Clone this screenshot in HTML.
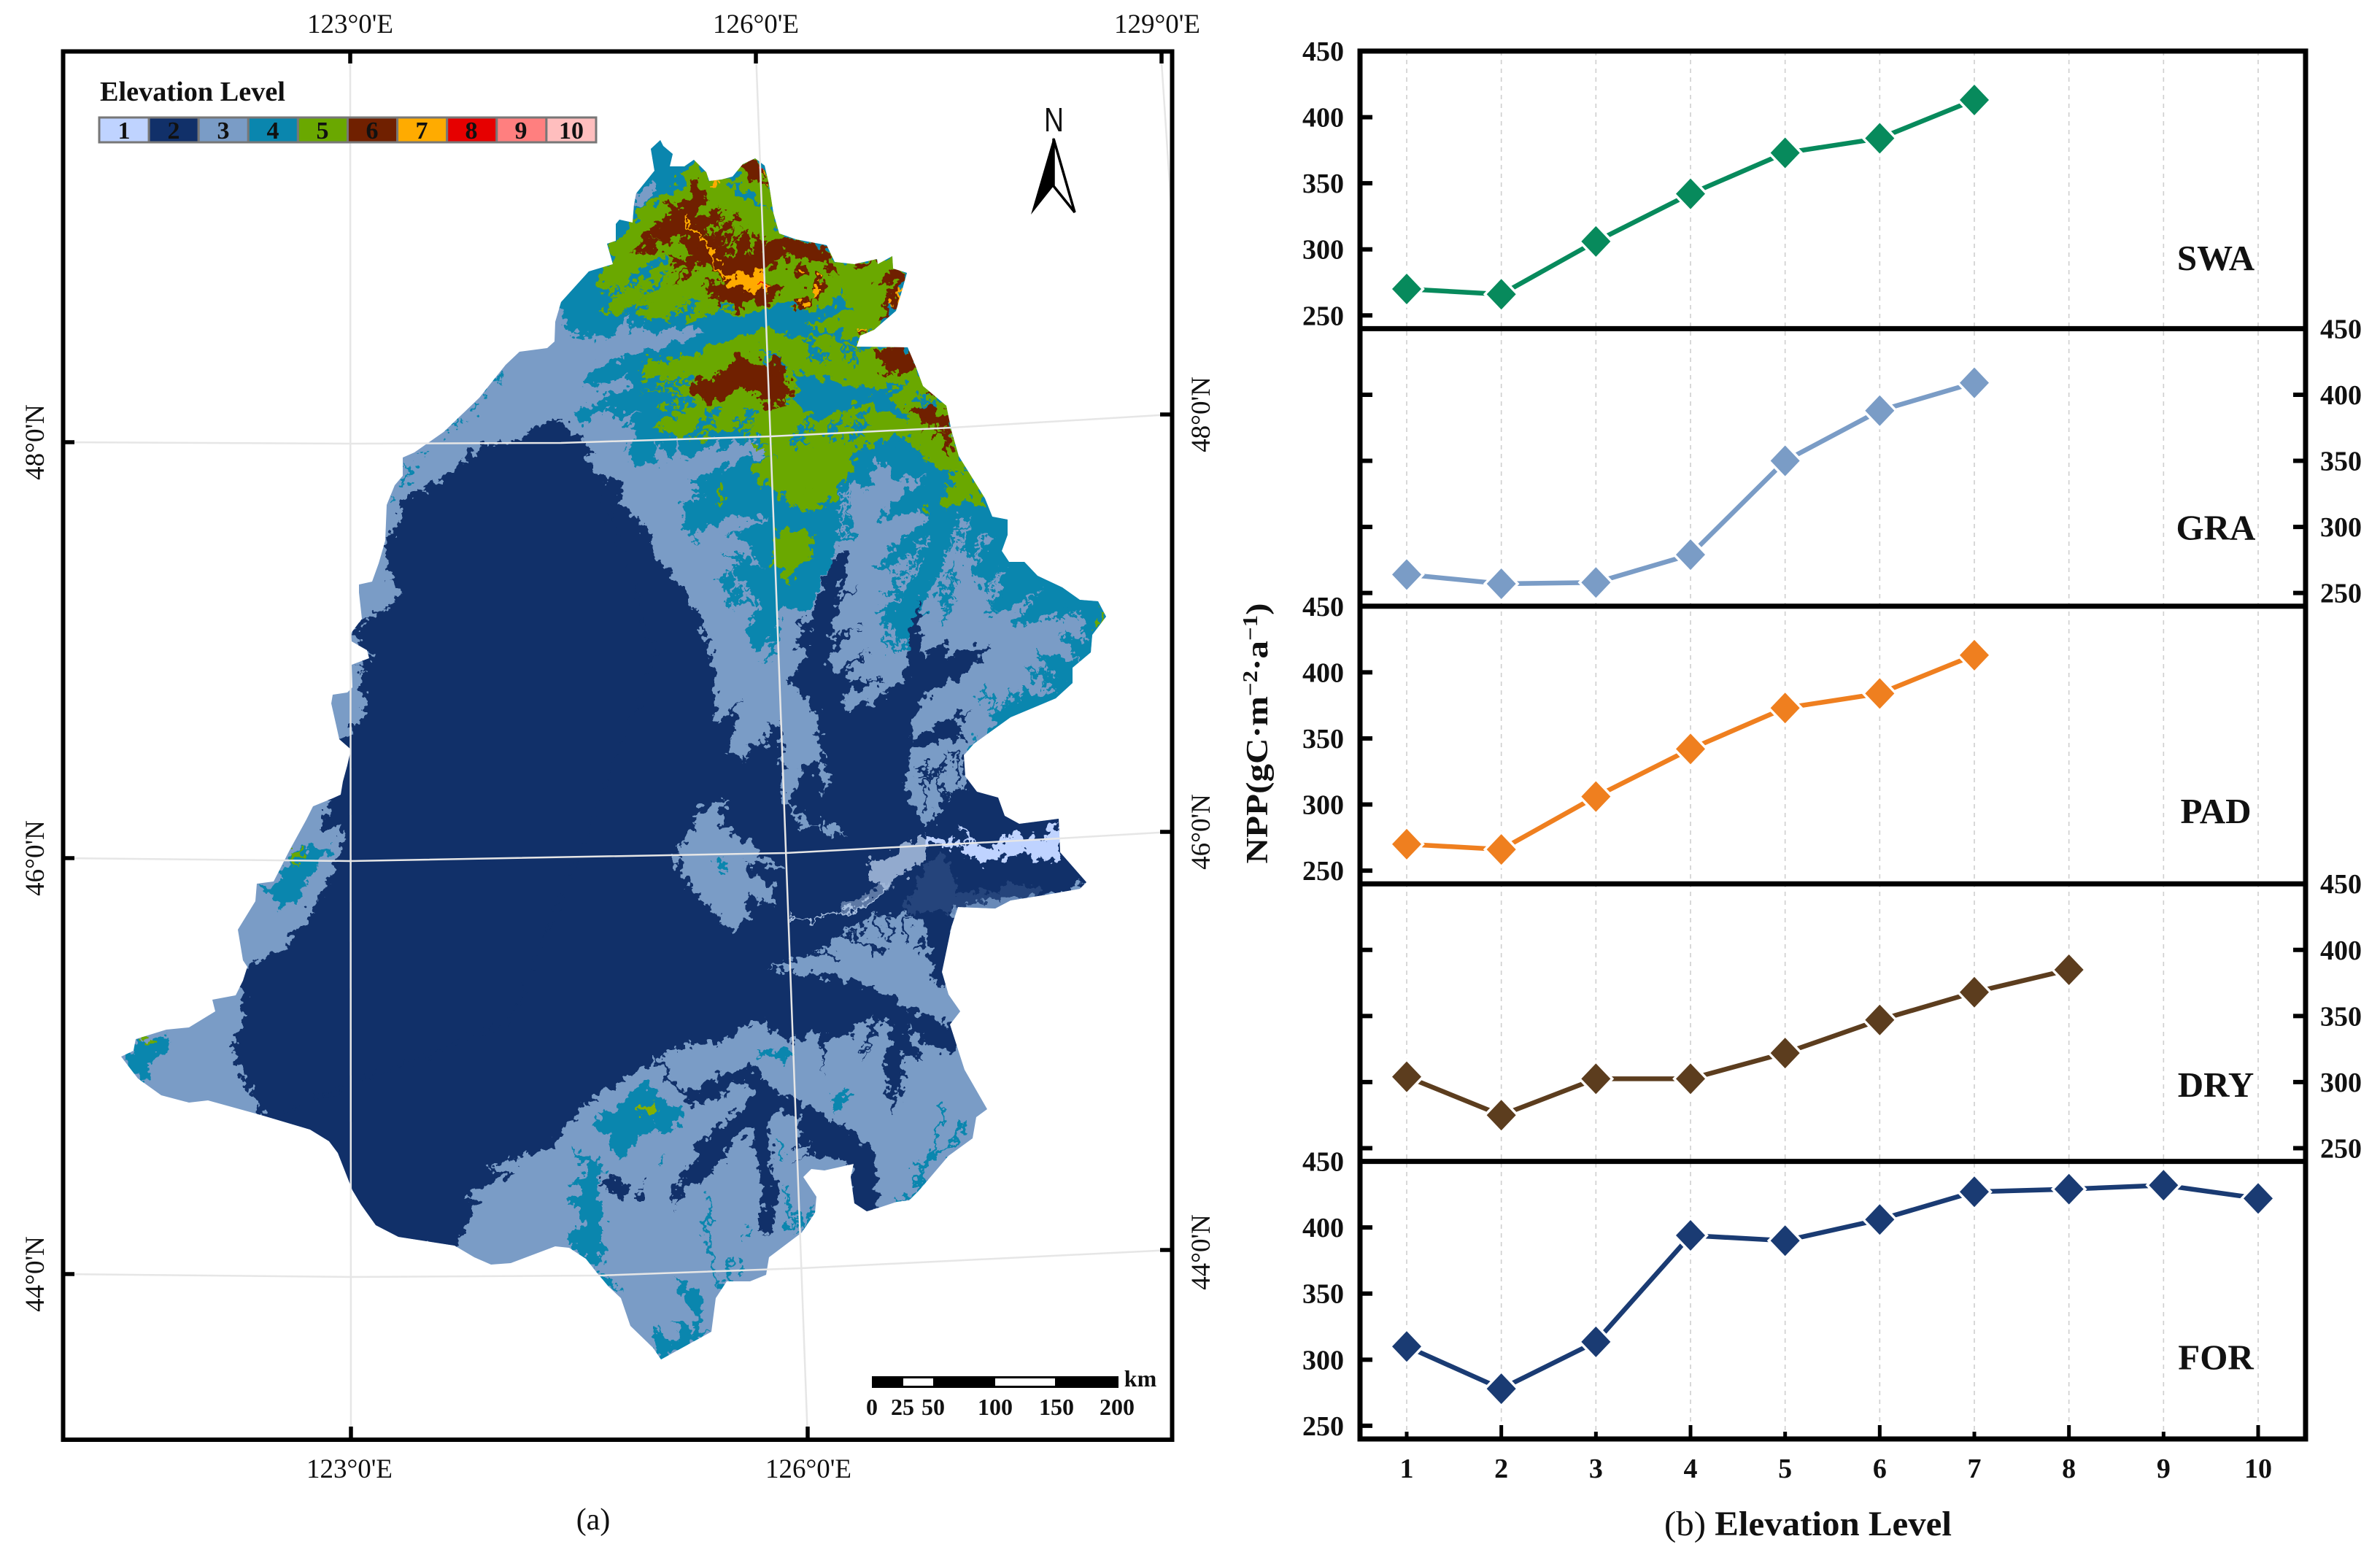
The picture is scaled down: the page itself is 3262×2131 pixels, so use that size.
<!DOCTYPE html>
<html lang="en">
<head>
<meta charset="utf-8">
<title>Elevation Level Map and NPP Chart</title>
<style>
html,body{margin:0;padding:0;background:#fff;}
svg{display:block;}
text{font-family:"Liberation Serif",serif;fill:#111;}
</style>
</head>
<body>
<svg id="figure" xmlns="http://www.w3.org/2000/svg" width="3262" height="2131" viewBox="0 0 3262 2131">
<defs>
<clipPath id="outline-clip">
<path d="M892,204 905,192 909,200 922,211 918,228 938,228 951,219 968,236 972,248 989,246 1004,242 1018,225 1035,217 1048,227 1054,253 1060,292 1068,320 1091,328 1133,336 1144,359 1171,362 1202,355 1203,362 1223,351 1224,368 1243,374 1236,399 1228,426 1198,452 1179,460 1174,475 1244,476 1255,502 1265,529 1297,556 1304,590 1314,625 1350,683 1360,708 1381,712 1381,733 1373,755 1383,770 1404,770 1422,789 1456,805 1480,822 1505,824 1516,845 1497,870 1495,894 1470,915 1470,936 1447,957 1385,983 1335,1019 1321,1035 1323,1064 1339,1085 1368,1093 1377,1118 1397,1129 1451,1122 1453,1168 1489,1209 1480,1218 1435,1226 1385,1234 1364,1245 1313,1243 1304,1270 1291,1332 1300,1363 1316,1386 1302,1404 1322,1466 1353,1520 1338,1531 1333,1560 1300,1584 1260,1631 1246,1645 1229,1647 1202,1656 1188,1660 1171,1649 1166,1613 1170,1595 1130,1604 1112,1602 1101,1613 1119,1640 1117,1662 1099,1689 1054,1723 1050,1747 1028,1756 996,1756 981,1779 975,1825 906,1863 895,1847 864,1817 851,1779 834,1763 818,1744 803,1725 780,1710 761,1708 700,1731 673,1733 650,1723 623,1707 546,1695 515,1679 495,1651 483,1631 463,1580 451,1564 425,1548 361,1529 285,1508 259,1511 221,1501 189,1478 166,1448 183,1440 186,1424 228,1411 259,1408 295,1386 291,1370 323,1364 333,1344 339,1325 333,1316 326,1274 350,1235 352,1211 375,1208 397,1165 420,1123 429,1105 456,1094 467,1089 470,1071 476,1049 481,1027 465,1013 461,995 454,964 456,952 476,949 483,942 482,911 506,902 503,891 482,879 481,868 496,848 492,812 492,801 510,797 519,772 528,741 530,692 541,665 552,652 552,627 568,620 608,592 657,545 693,500 712,482 750,477 760,468 761,441 769,414 807,372 840,362 832,334 844,330 844,307 849,301 867,305 869,280 872,265 897,234 Z"/>
</clipPath>
<filter id="rough" filterUnits="userSpaceOnUse" x="100" y="150" width="1450" height="1750" color-interpolation-filters="sRGB">
<feTurbulence type="fractalNoise" baseFrequency="0.085" numOctaves="3" seed="4" result="n"/>
<feDisplacementMap in="SourceGraphic" in2="n" scale="30" xChannelSelector="R" yChannelSelector="G"/>
</filter>
</defs>

<rect width="3262" height="2131" fill="#fff"/>

<g clip-path="url(#outline-clip)">
<rect x="100" y="150" width="1450" height="1750" fill="#7a9cc6"/>
<g filter="url(#rough)">

<g fill="#0a86ae">
<polygon transform="translate(750,150) scale(.38265)" points="30,690 60,770 80,800 150,815 230,820 270,760 295,720 285,800 340,770 345,795 430,795 555,780 570,800 400,850 210,905 130,965 135,1000 290,960 300,985 100,1085 130,1130 220,1060 240,1105 335,1070 285,1130 330,1170 285,1205 305,1280 385,1270 410,1200 440,1260 470,1165 480,1255 580,1220 610,1175 610,1215 740,1180 800,1160 1600,1160 1600,0 300,0 300,300 30,600"/>
<polygon transform="translate(900,600) scale(.41454)" points="82,72 173,41 200,0 320,5 320,25 380,55 320,60 250,75 215,100 100,150 160,190 85,210 85,280 130,345 165,300 250,260 390,270 330,285 235,315 300,350 350,440 280,380 225,380 280,410 210,470 240,565 350,540 300,630 325,705 390,660 350,745 400,720 405,560 480,570 500,590 540,520 620,400 700,300 800,0 800,-100 82,-100"/>
<polygon transform="translate(900,600) scale(.41454)" points="500,590 700,0 1700,0 1700,1100 1000,1100 800,1000 600,800"/>
</g>
<polygon fill="#7a9cc6" transform="translate(750,150) scale(.38265)" points="315,300 380,255 385,290 340,350 310,350"/>

<polygon fill="#7a9cc6" transform="translate(900,600) scale(.41454)" points="610,340 650,330 640,150 700,170 720,60 790,140 890,130 760,230 735,275 860,240 900,270 790,350 725,435 860,390 850,440 750,510 830,540 720,570 830,670 870,620 890,520 960,400 940,400 1000,270 1040,260 1000,380 1040,400 1060,470 1090,520 1130,430 1110,590 1230,530 1290,490 1180,620 1300,590 1400,560 1410,680 1340,640 1390,740 1260,710 1340,800 1230,760 1330,830 1260,860 1210,820 1200,870 1180,840 1165,890 1110,880 1130,900 1100,970 1030,1020 1020,1040 900,1100 600,1000 520,800 490,600 560,440"/>
<g id="wedge-feathers" transform="translate(900,600) scale(.41454)"></g>
<g id="teal-light-feathers" transform="translate(900,600) scale(.41454)"></g>
<g transform="translate(300,500) scale(.44643)" fill="none" stroke="#0a86ae" stroke-width="9">
<path d="M858,38 l-10,12 M828,80 l-12,12 M790,125 l-22,18 M750,175 l-30,12 M698,208 l-10,10 M628,258 l-8,6 M570,298 L592,320 L575,350 L555,365 M535,402 l-6,8"/>
</g>

<g fill="#6aa800">
<polygon transform="translate(750,150) scale(.38265)" points="215,480 245,470 310,410 320,370 420,300 490,280 485,225 525,180 575,240 600,250 670,240 700,195 745,175 790,210 830,450 1000,490 1030,540 1180,535 1235,525 1290,585 1200,770 1110,850 1100,830 1060,800 930,770 1040,740 1110,720 1070,690 1060,640 1040,680 940,740 860,690 770,720 680,740 600,720 530,760 490,760 490,680 430,760 330,740 430,580 340,640 320,720 300,680 265,730 210,720 295,640 180,650 180,590 240,550"/>
<polygon transform="translate(750,150) scale(.38265)" points="350,900 480,895 590,850 660,820 740,800 790,790 880,810 950,820 1000,800 1060,830 1108,850 1290,850 1330,940 1430,1060 1450,1150 1480,1250 1568,1390 1568,1420 1500,1400 1410,1430 1480,1345 1500,1300 1440,1290 1380,1280 1310,1200 1240,1170 1150,1205 1090,1215 1100,1280 1060,1320 1030,1390 960,1440 900,1420 820,1370 720,1290 780,1240 830,1260 730,1205 810,1190 700,1170 740,1130 660,1170 600,1150 560,1180 500,1170 450,1180 380,1130 450,1090 400,1060 500,1040 400,1000 330,1020 470,970 330,960"/>
<g transform="translate(900,600) scale(.41454)">
<polygon points="985,90 1010,120 1060,130 1085,200 1060,190 960,215 935,240 970,170"/>
<polygon points="880,220 905,230 910,270 890,250"/>
<polygon points="390,310 440,310 500,305 515,340 510,400 470,420 430,490 400,440 375,410 395,380"/>
<polygon points="205,165 225,170 220,230 205,225"/>
<polygon points="1470,560 1485,590 1465,630"/>
</g>
</g>
<polygon fill="#0a86ae" transform="translate(750,150) scale(.38265)" points="650,260 700,280 760,330 795,350 740,345 680,305"/>
<polygon fill="#0a86ae" transform="translate(750,150) scale(.38265)" points="300,590 370,560 435,510 420,545 330,610 300,650"/>
<polygon fill="#0a86ae" transform="translate(750,150) scale(.38265)" points="870,945 1000,960 1100,990 1150,1010 1290,980 1230,1030 1290,1110 1190,1075 1130,1050 1000,1100 930,1120 960,1100 860,1040 900,1000"/>
<g id="teal-feathers" transform="translate(750,150) scale(.38265)"></g>
<g id="green-feathers" transform="translate(750,150) scale(.38265)"></g>

<g fill="#702000" transform="translate(750,150) scale(.38265)">
<polygon points="345,440 410,400 440,380 430,320 470,345 510,320 512,300 530,240 550,300 575,310 555,350 530,400 630,355 560,460 680,375 600,510 680,420 640,540 720,420 730,520 760,430 775,500 830,450 900,470 1000,490 1015,530 1050,590 1020,580 970,540 920,530 870,540 850,510 800,570 780,590 790,640 850,630 830,660 790,700 730,680 680,730 660,700 610,680 570,620 640,620 600,570 530,560 480,610 440,640 510,560 450,570 440,520 490,540 510,510 470,450 430,490 380,445 385,520 340,500 290,520 340,470"/>
<polygon points="690,205 745,180 785,210 795,265 760,240 730,265 720,225"/>
<circle cx="905" cy="578" r="28"/>
<polygon points="885,670 945,670 925,710 905,720 888,700"/>
<polygon points="935,640 965,590 990,600 1000,660 970,680"/>
<polygon points="1090,560 1180,535 1130,578"/>
<polygon points="1288,585 1250,670 1220,745 1195,760 1215,690 1245,630 1180,620 1240,578"/>
<polygon points="1115,800 1170,780 1130,815"/>
<polygon points="510,1000 540,960 590,960 640,930 680,870 730,900 770,920 820,880 850,930 870,1020 830,1060 780,1080 770,1030 700,1000 620,1040 590,1050 510,1020"/>
<polygon points="1170,860 1290,850 1320,930 1260,950 1220,930 1170,870"/>
<polygon points="1340,1000 1390,1015 1380,1035"/>
<polygon points="1290,1080 1350,1065 1440,1100 1450,1230 1420,1220 1425,1140 1340,1110"/>
</g>
<g id="brown-feathers" transform="translate(750,150) scale(.38265)"></g>

<g transform="translate(750,150) scale(.38265)" fill="#ffab00">
<path d="M510,370 L490,400 L520,430 L580,480 L590,530 L620,580 L650,610" fill="none" stroke="#ffab00" stroke-width="10"/>
<polygon points="630,620 680,570 700,600 770,570 785,630 750,660 690,640"/>
<circle cx="605" cy="268" r="14"/>
<circle cx="905" cy="580" r="8"/>
<circle cx="912" cy="688" r="12"/>
<circle cx="965" cy="645" r="20"/>
<circle cx="980" cy="604" r="7"/>
<path d="M1265,640 L1240,700" stroke="#ffab00" stroke-width="12" fill="none"/>
<path d="M1125,795 L1165,785" stroke="#ffab00" stroke-width="9" fill="none"/>
<path d="M775,205 L788,250" stroke="#ffab00" stroke-width="9" fill="none"/>
<circle cx="770" cy="625" r="6" fill="#e60000"/>
<circle cx="767" cy="196" r="5" fill="#e60000"/>
</g>

<g fill="#113069">
<polygon points="764,574 768,607 771,620 764,656 773,665 811,636 796,656 827,652 854,658 849,687 885,723 907,772 943,812 965,862 981,920 979,990 989,990 1012,957 1002,1027 1020,1044 1029,1017 1047,1023 1055,992 1068,988 1072,1023 1074,1073 1070,1093 1084,1102 1095,1131 1120,1137 1099,1118 1084,1098 1095,1068 1099,1056 1116,1042 1126,1044 1120,981 1107,957 1078,930 1093,919 1103,890 1091,884 1105,865 1093,853 1111,849 1136,774 1157,751 1161,774 1149,820 1180,801 1150,830 1138,874 1182,859 1149,882 1134,907 1145,923 1165,907 1190,890 1161,923 1157,932 1211,932 1157,952 1155,965 1159,979 1211,952 1244,928 1242,899 1257,822 1263,849 1261,899 1294,878 1304,901 1323,886 1358,884 1339,909 1310,932 1261,957 1248,1015 1335,967 1315,986 1319,1015 1286,1015 1248,1031 1330,1030 1400,1040 1600,1100 1600,1300 500,1300"/>
<polygon points="361,1535 500,1700 623,1715 648,1657 661,1644 636,1641 706,1606 668,1600 757,1571 776,1542 814,1504 853,1482 891,1461 895,1444 918,1484 937,1503 952,1516 987,1507 991,1495 1017,1484 1038,1493 1014,1522 983,1545 949,1574 956,1587 935,1610 925,1633 924,1656 941,1625 968,1614 994,1583 1021,1547 1029,1549 1038,1580 1040,1614 1044,1656 1044,1694 1061,1679 1065,1637 1056,1587 1052,1537 1067,1518 1090,1530 1098,1553 1086,1572 1113,1568 1094,1595 1113,1580 1167,1595 1167,1670 1190,1670 1205,1645 1199,1583 1186,1564 1144,1537 1109,1516 1071,1499 1040,1472 1029,1461 994,1469 952,1495 941,1497 925,1484 903,1449 945,1432 987,1427 1036,1398 1063,1415 1086,1426 1121,1417 1130,1470 1135,1420 1157,1421 1197,1390 1180,1457 1205,1400 1229,1404 1211,1453 1222,1529 1237,1493 1233,1444 1264,1453 1242,1408 1287,1439 1304,1444 1320,1420 1400,1300 500,1300"/>
<polygon points="764,574 724,589 711,605 657,612 639,629 621,647 568,676 546,696 546,719 532,737 528,763 537,786 530,795 550,806 548,817 523,839 501,848 483,871 490,882 510,897 483,913 501,915 492,942 503,960 496,982 481,1004 465,1013 440,1010 440,1096 454,1096 443,1120 443,1136 463,1136 476,1147 461,1179 444,1217 425,1252 387,1300 342,1325 320,1340 336,1367 330,1408 317,1434 336,1485 361,1535 700,1400 900,900 800,600"/>
<ellipse cx="843" cy="1626" rx="23" ry="12" transform="rotate(32 843 1626)"/>
<ellipse cx="878" cy="1639" rx="9" ry="7" transform="rotate(25 878 1639)"/>
<circle cx="885" cy="1621" r="4"/>
</g>

<g fill="#7a9cc6">
<polygon points="954,1111 985,1094 1003,1100 985,1106 990,1131 1010,1147 1032,1156 1041,1174 1077,1187 1079,1192 1041,1185 1017,1178 1032,1200 1059,1212 1063,1241 1032,1229 1012,1238 1030,1256 1014,1270 1005,1279 996,1265 952,1229 950,1218 932,1194 925,1171 934,1156 952,1138"/>
<polygon points="1120,1052 1130,1044 1138,1069 1130,1089"/>
<polygon points="1124,1124 1145,1129 1159,1143 1126,1143"/>
<polygon points="1050,1325 1086,1319 1135,1296 1157,1276 1202,1252 1246,1254 1264,1265 1273,1279 1273,1310 1280,1341 1296,1354 1302,1354 1330,1386 1302,1404 1282,1397 1251,1386 1226,1377 1224,1363 1157,1341 1086,1332"/>
<polygon points="1304,1243 1354,1234 1394,1229 1443,1227 1474,1216 1490,1207 1510,1240 1350,1270 1310,1285"/>
<polygon transform="translate(900,600) scale(.41454)" points="840,1040 900,1030 985,1020 1015,1040 1015,1100 1030,1150 960,1190 930,1220 920,1270 880,1280 850,1210 825,1150"/>
</g>
<g fill="none" stroke="#113069" stroke-width="12" transform="translate(800,1100) scale(.44643)">
<path d="M790,405 L860,430 L930,465 M820,395 L830,430 M890,350 L915,410 M935,345 L945,430 M990,350 L990,420 M1040,420 L1020,460 M850,375 L870,400 M700,465 L800,475 M1060,400 L1075,530"/>
</g>
<g fill="none" stroke="#113069" stroke-width="11" transform="translate(900,600) scale(.41454)">
<path d="M900,1060 L880,1140 L890,1230 M960,1050 L930,1120 L960,1210 M980,1040 L1000,1150 M860,1110 L960,1100"/>
</g>
<polygon fill="#4a6a9f" opacity=".35" transform="translate(900,600) scale(.41454)" points="820,1568 880,1420 950,1380 1000,1500 1100,1510 1180,1470 1300,1510 1300,1568"/>

<g fill="#bfd3ff">
<polygon transform="translate(900,600) scale(.41454)" points="880,1310 950,1325 1010,1345 1035,1345 1020,1300 1000,1285 1030,1295 1045,1345 1130,1355 1150,1320 1170,1305 1290,1330 1305,1270 1320,1270 1335,1320 1340,1390 1300,1400 1200,1370 1180,1380 1090,1405 1060,1405 1030,1380 1010,1355 940,1345 880,1345"/>
<polygon fill="#a9c0e0" opacity=".85" points="1190,1180 1215,1178 1240,1156 1265,1147 1267,1180 1232,1201 1215,1218 1190,1201"/>
<path d="M1081,1254 L1095,1261 L1153,1252 L1188,1238 L1220,1216" fill="none" stroke="#a9c0e0" stroke-width="3"/>
<path d="M1153,1246 L1188,1232 L1220,1210" fill="none" stroke="#a9c0e0" stroke-width="10" opacity=".5"/>
</g>

<g fill="#0a86ae" transform="translate(650,1350) scale(.38265)">
<polygon points="430,490 530,420 570,370 610,340 650,380 700,420 745,450 745,495 680,535 660,510 600,545 555,590 530,615 490,600 480,530 430,515"/>
<polygon points="340,580 400,610 430,640 450,620 465,650 440,700 460,800 455,1000 440,1030 400,980 350,930 335,880 385,870 370,800 340,780 385,740 340,710 400,680 400,640 345,595"/>
<polygon points="445,1040 480,1040 520,1100 490,1085"/>
<polygon points="640,1290 655,1220 680,1250 700,1290 730,1280 740,1240 705,1200 750,1205 790,1250 785,1150 750,1130 710,1035 770,1090 810,1090 815,1250 860,1240 670,1350"/>
<polygon points="1020,245 1110,230 1135,255 1080,275 1060,262"/>
<polygon points="1285,395 1350,375 1330,420 1300,470 1290,430"/>
<polygon points="660,630 688,610 675,650"/>
<g fill="none" stroke="#0a86ae" stroke-width="13">
<path d="M830,745 L850,830 L825,860 L850,960 L870,1060 L880,1110 M915,985 L910,1050 L880,1090 M955,990 L955,1050 M980,860 L975,900 M1115,710 L1130,830 L1160,850 L1110,885 M1090,560 L1100,640 M1215,780 L1185,870 M1150,800 L1170,880"/>
</g>
<polygon fill="#85b000" points="580,445 650,415 655,450 610,460 585,465"/>
</g>
<g fill="none" stroke="#0a86ae" stroke-width="11" transform="translate(800,1100) scale(.44643)">
<path d="M1100,930 L1105,990 L1075,1020 L1080,1080 L1040,1110 L1000,1110 M1160,980 L1150,1030 L1110,1060 L1060,1110 L1030,1130 L1030,1180 L1000,1215 L965,1220 M790,900 L770,950 M820,890 L780,920"/>
</g>
<polygon fill="#0a86ae" points="983,1176 992,1178 994,1198 990,1200 983,1189"/>
<g transform="translate(100,1000) scale(.63776)">
<polygon fill="#0a86ae" points="103,702 130,690 135,665 200,660 200,685 170,715 155,755 140,750"/>
<polygon fill="#6aa800" points="145,665 165,658 170,672 150,672"/>
<polygon fill="#0a86ae" points="395,335 430,340 470,260 555,250 520,300 500,340 480,370 450,385 430,365"/>
<polygon fill="#6aa800" points="465,258 500,265 480,280 485,300 470,280"/>
</g>
</g>
</g>

<g fill="none" stroke="#e6e6e6" stroke-width="2.5">
<polyline points="480,70 481,1972"/>
<polyline points="1036,70 1062,760 1107,1972"/>
<polyline points="1591,70 1606,295"/>
<polyline points="85,606 480,608 769,607 1056,598 1305,586 1606,568"/>
<polyline points="85,1176 480,1180 1077,1169 1452,1149 1606,1140"/>
<polyline points="85,1746 481,1750 822,1748 1098,1738 1606,1713"/>
</g>

<rect x="86.5" y="70.5" width="1520" height="1902.5" fill="none" stroke="#000" stroke-width="6"/>
<g stroke="#000" stroke-width="5.5">
<line x1="480" y1="70" x2="480" y2="87"/>
<line x1="1036" y1="70" x2="1036" y2="87"/>
<line x1="1592" y1="70" x2="1592" y2="87"/>
<line x1="481" y1="1972" x2="481" y2="1955"/>
<line x1="1107" y1="1972" x2="1107" y2="1955"/>
<line x1="85" y1="606" x2="102" y2="606"/>
<line x1="85" y1="1176" x2="102" y2="1176"/>
<line x1="85" y1="1746" x2="102" y2="1746"/>
<line x1="1606" y1="568" x2="1590" y2="568"/>
<line x1="1606" y1="1140" x2="1590" y2="1140"/>
<line x1="1606" y1="1713" x2="1590" y2="1713"/>
</g>

<g font-size="37" text-anchor="middle">
<text x="480" y="45">123°0'E</text>
<text x="1036" y="45">126°0'E</text>
<text x="1586" y="45">129°0'E</text>
<text x="479" y="2025">123°0'E</text>
<text x="1108" y="2025">126°0'E</text>
<text transform="translate(60,606) rotate(-90)">48°0'N</text>
<text transform="translate(60,1176) rotate(-90)">46°0'N</text>
<text transform="translate(60,1746) rotate(-90)">44°0'N</text>
<text transform="translate(1658,568) rotate(-90)">48°0'N</text>
<text transform="translate(1658,1140) rotate(-90)">46°0'N</text>
<text transform="translate(1658,1716) rotate(-90)">44°0'N</text>
</g>

<g>
<text x="137" y="138" font-size="38" font-weight="bold" textLength="254" lengthAdjust="spacingAndGlyphs">Elevation Level</text>
<g stroke="#777" stroke-width="3">
<rect x="136" y="161" width="68.1" height="34" fill="#bfd3ff"/>
<rect x="204.1" y="161" width="68.1" height="34" fill="#113069"/>
<rect x="272.2" y="161" width="68.1" height="34" fill="#7a9cc6"/>
<rect x="340.3" y="161" width="68.1" height="34" fill="#0a86ae"/>
<rect x="408.4" y="161" width="68.1" height="34" fill="#6aa800"/>
<rect x="476.5" y="161" width="68.1" height="34" fill="#702000"/>
<rect x="544.6" y="161" width="68.1" height="34" fill="#ffab00"/>
<rect x="612.7" y="161" width="68.1" height="34" fill="#e60000"/>
<rect x="680.8" y="161" width="68.1" height="34" fill="#ff7f7f"/>
<rect x="748.9" y="161" width="68.1" height="34" fill="#ffbebe"/>
</g>
<g font-size="34" font-weight="bold" text-anchor="middle">
<text x="170" y="190">1</text>
<text x="238" y="190">2</text>
<text x="306" y="190">3</text>
<text x="374" y="190">4</text>
<text x="442" y="190">5</text>
<text x="510" y="190">6</text>
<text x="578" y="190">7</text>
<text x="646" y="190">8</text>
<text x="714" y="190">9</text>
<text x="783" y="190">10</text>
</g>
</g>

<g>
<text x="1431" y="180" font-size="46" textLength="27" lengthAdjust="spacingAndGlyphs" style="font-family:'Liberation Sans',sans-serif">N</text>
<polygon points="1444,188 1413,294 1444,255" fill="#000"/>
<polygon points="1444,190 1473,291 1444,255" fill="#fff" stroke="#000" stroke-width="3.5"/>
</g>

<g>
<rect x="1195" y="1886" width="338" height="16" fill="#000"/>
<rect x="1238" y="1889" width="41" height="10" fill="#fff"/>
<rect x="1364" y="1889" width="82" height="10" fill="#fff"/>
<g font-size="32" font-weight="bold" text-anchor="middle">
<text x="1195" y="1939">0</text>
<text x="1237" y="1939">25</text>
<text x="1279" y="1939">50</text>
<text x="1364" y="1939">100</text>
<text x="1448" y="1939">150</text>
<text x="1531" y="1939">200</text>
<text x="1563" y="1900">km</text>
</g>
</g>

<text x="813" y="2096" font-size="42" text-anchor="middle">(a)</text>

<g id="chart"></g>

<text transform="translate(1737,1005) rotate(-90)" text-anchor="middle" font-size="42" font-weight="bold" textLength="357" lengthAdjust="spacingAndGlyphs">NPP(gC·m<tspan font-size="28" dy="-14">−2</tspan><tspan dy="14">·a</tspan><tspan font-size="28" dy="-14">−1</tspan><tspan dy="14">)</tspan></text>
<text x="2478" y="2104" text-anchor="middle" font-size="48" textLength="394" lengthAdjust="spacingAndGlyphs">(b) <tspan font-weight="bold">Elevation Level</tspan></text>
</svg>

<script>
const categories = [1, 2, 3, 4, 5, 6, 7, 8, 9, 10];
const yTickValues = [250, 300, 350, 400, 450];
const panelNames = ['SWA', 'GRA', 'PAD', 'DRY', 'FOR'];
const swaValues = [270, 266, 306, 342, 373, 384, 413];
const graValues = [264, 257, 258, 279, 350, 388, 409];
const padValues = [270, 266, 306, 342, 373, 384, 413];
const dryValues = [304, 275, 302.5, 302.5, 322, 347, 368, 385];
const forValues = [310, 278, 313.5, 394, 390, 406, 427, 429, 432, 422];
const seriesColors = ['#078a5c', '#7a9cc6', '#ef7f1f', '#5c3d1e', '#1a3b73'];

const PLOT_LEFT = 1864, PLOT_RIGHT = 3160, PLOT_TOP = 70, PLOT_BOTTOM = 1972;
const PANEL_H = (PLOT_BOTTOM - PLOT_TOP) / 5;
const Y_MAX = 450, Y_PER_PX = 210 / PANEL_H;
const SVG_NS = 'http://www.w3.org/2000/svg';
const chart = document.getElementById('chart');

function xScale(level) { return 1928 + (level - 1) * (3095 - 1928) / 9; }
function panelTop(i) { return PLOT_TOP + i * PANEL_H; }
function yScale(value, i) { return panelTop(i) + (Y_MAX - value) / Y_PER_PX; }
function make(tag, attrs, parent) {
  const el = document.createElementNS(SVG_NS, tag);
  for (const k in attrs) el.setAttribute(k, attrs[k]);
  parent.appendChild(el);
  return el;
}

/* Map texture: dendritic valley / ridge feathers drawn from hand-placed spines (map geometry, not chart data). */
const barbPattern = [1, 0.65, 0.9, 0.55, 0.8];
function feather(group, spine, color, width, step, barb, name) {
  const ax = spine[0], ay = spine[1], bx = spine[2], by = spine[3];
  const len = Math.hypot(bx - ax, by - ay);
  const dx = (bx - ax) / len, dy = (by - ay) / len;
  const nx = -dy, ny = dx;
  let d = 'M' + ax + ',' + ay + ' L' + bx + ',' + by;
  let i = 0;
  for (let s = step; s < len; s += step) {
    const t = s / len;
    const px = ax + dx * s, py = ay + dy * s;
    const side = (i % 2 === 0) ? 1 : -1;
    const l = barb * barbPattern[i % 5] * (1 - 0.55 * t);
    d += ' M' + px.toFixed(1) + ',' + py.toFixed(1) + ' l' + ((dx * 0.6 + nx * side * 0.8) * l).toFixed(1) + ',' + ((dy * 0.6 + ny * side * 0.8) * l).toFixed(1);
    i++;
  }
  const path = make('path', { d: d, fill: 'none', stroke: color, 'stroke-width': width, 'stroke-linecap': 'round' }, group);
  
  
}
const wedgeSpines = [[965,470,955,610],[1020,290,965,360],[990,420,960,560],[820,490,825,570],[740,570,830,680],[740,660,810,700],[720,430,790,400],[880,370,790,480],[1230,760,1330,830],[1100,590,1130,440],[1180,620,1290,490],[1300,590,1400,560],[1170,840,1190,900],[1080,820,1130,920],[1260,710,1345,800]];
const lightSpines = [[1020,300,975,370],[1100,320,1060,400],[900,340,800,430],[880,420,800,490],[1140,440,1110,520],[640,150,610,330],[300,280,130,330],[250,450,330,560]];
const tealSpines = [[420,1000,520,960],[400,1100,510,1040],[520,1170,600,1080],[660,1170,740,1070],[880,1210,950,1100],[1000,1180,1060,1100],[1080,1190,1140,1090],[1300,1230,1240,1170],[450,780,540,680],[600,730,700,600],[1050,830,1120,910],[930,830,1000,900],[770,850,850,930],[1400,1100,1320,1020]];
const greenSpines = [[190,640,300,600],[200,720,290,690],[330,700,430,640],[390,750,490,700],[270,590,260,720],[370,590,330,700],[830,1300,880,1420],[960,1300,930,1430],[1020,1320,950,1430],[1480,1340,1420,1420]];
const brownSpines = [[540,1010,780,920],[830,880,850,1050],[630,355,520,500],[680,375,590,520],[720,420,700,540],[430,490,350,440],[620,700,570,620],[1250,900,1210,950],[1350,1090,1430,1180]];
wedgeSpines.forEach(function (s, i) { feather(document.getElementById('wedge-feathers'), s, '#0a86ae', 11, 20, 40, 'level-4-finger-' + i); });
lightSpines.forEach(function (s, i) { feather(document.getElementById('teal-light-feathers'), s, '#7a9cc6', 11, 24, 38, 'level-3-finger-' + i); });
tealSpines.forEach(function (s, i) { feather(document.getElementById('teal-feathers'), s, '#0a86ae', 13, 24, 46, 'level-4-valley-' + i); });
greenSpines.forEach(function (s, i) { feather(document.getElementById('green-feathers'), s, '#6aa800', 12, 22, 42, 'level-5-ridge-' + i); });
brownSpines.forEach(function (s, i) { feather(document.getElementById('brown-feathers'), s, '#702000', 10, 22, 38, 'level-6-ridge-' + i); });

// grid lines
categories.forEach(function (c) {
  const grid = make('line', { x1: xScale(c), x2: xScale(c), y1: PLOT_TOP, y2: PLOT_BOTTOM, stroke: '#cfcfcf', 'stroke-width': 1.6, 'stroke-dasharray': '6 6' }, chart);
  
  
});

const allSeries = [swaValues, graValues, padValues, dryValues, forValues];
const labelOffsets = [300, 289, 297, 292, 285];

// lines
allSeries.forEach(function (values, i) {
  const pts = values.map(function (v, k) { return xScale(categories[k]) + ',' + yScale(v, i); }).join(' ');
  const line = make('polyline', { points: pts, fill: 'none', stroke: seriesColors[i], 'stroke-width': 6.5 }, chart);
  
  
});

// frames and row dividers
const frame = make('rect', { x: PLOT_LEFT, y: PLOT_TOP, width: PLOT_RIGHT - PLOT_LEFT, height: PLOT_BOTTOM - PLOT_TOP, fill: 'none', stroke: '#000', 'stroke-width': 7 }, chart);



panelNames.forEach(function (name, i) {
  if (i > 0) {
    const divider = make('line', { x1: PLOT_LEFT, x2: PLOT_RIGHT, y1: panelTop(i), y2: panelTop(i), stroke: '#000', 'stroke-width': 7 }, chart);
    
    
  }
  const labelsOnRight = (i % 2 === 1);
  yTickValues.forEach(function (v) {
    const y = yScale(v, i);
    if (v !== Y_MAX) {
      const tickL = make('line', { x1: PLOT_LEFT, x2: PLOT_LEFT + 17, y1: y, y2: y, stroke: '#000', 'stroke-width': 6 }, chart);
      
      
      if (labelsOnRight) {
        const tickR = make('line', { x1: PLOT_RIGHT, x2: PLOT_RIGHT - 17, y1: y, y2: y, stroke: '#000', 'stroke-width': 6 }, chart);
        
        
      }
    }
    const label = make('text', { x: labelsOnRight ? 3180 : 1842, y: y + 13, 'font-size': 38, 'font-weight': 'bold', 'text-anchor': labelsOnRight ? 'start' : 'end' }, chart);
    label.textContent = v;
    
    
  });
  const panelLabel = make('text', { x: 3037, y: panelTop(i) + labelOffsets[i], 'font-size': 49, 'font-weight': 'bold', 'text-anchor': 'middle' }, chart);
  panelLabel.textContent = name;
  
  
});

// x ticks and labels
categories.forEach(function (c) {
  const len = (c % 2 === 0) ? 19 : 10;
  const tick = make('line', { x1: xScale(c), x2: xScale(c), y1: PLOT_BOTTOM, y2: PLOT_BOTTOM - len, stroke: '#000', 'stroke-width': 5 }, chart);
  
  
  const label = make('text', { x: xScale(c), y: 2025, 'font-size': 38, 'font-weight': 'bold', 'text-anchor': 'middle' }, chart);
  label.textContent = c;
  
  
});

// markers
allSeries.forEach(function (values, i) {
  values.forEach(function (v, k) {
    const cx = xScale(categories[k]), cy = yScale(v, i);
    const d = make('polygon', {
      points: cx + ',' + (cy - 21) + ' ' + (cx + 20) + ',' + cy + ' ' + cx + ',' + (cy + 21) + ' ' + (cx - 20) + ',' + cy,
      fill: seriesColors[i], stroke: '#fff', 'stroke-width': 7, 'paint-order': 'stroke'
    }, chart);
    
    
  });
});
</script>
</body>
</html>
